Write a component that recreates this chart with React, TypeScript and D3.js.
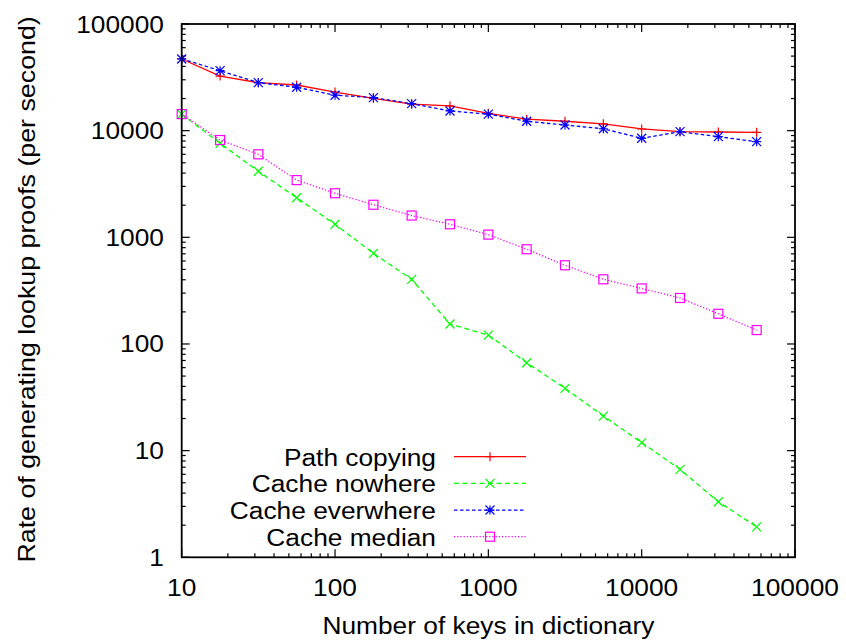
import React from "react";
import * as d3 from "d3";

// number of keys (quarter-decade steps)
const keys = [10, 17.8, 31.6, 56.2, 100, 178, 316, 562, 1000, 1778, 3162, 5623, 10000, 17783, 31623, 56234];

const pathCopying = [47000, 32500, 28200, 26800, 23000, 20100, 17700, 17100, 14550, 12800, 12250, 11600, 10370, 9780, 9710, 9640];
const cacheNowhere = [14300, 7620, 4160, 2350, 1325, 708, 404, 154, 121, 66.7, 38.4, 21.1, 11.9, 6.68, 3.32, 1.93];
const cacheEverywhere = [47000, 36500, 28200, 25500, 21500, 20400, 17900, 15300, 14300, 12250, 11300, 10420, 8480, 9780, 8780, 7880];
const cacheMedian = [14300, 8170, 6000, 3440, 2590, 2020, 1600, 1325, 1060, 773, 547, 404, 332, 270, 192, 135];

const xTickLabels = ["10", "100", "1000", "10000", "100000"];
const yTickLabels = ["1", "10", "100", "1000", "10000", "100000"];

const series = [
  { name: "Path copying", values: pathCopying, color: "#ff0000", dash: "none", marker: "plus" },
  { name: "Cache nowhere", values: cacheNowhere, color: "#00ff00", dash: "5,3.5", marker: "cross" },
  { name: "Cache everwhere", values: cacheEverywhere, color: "#0000ff", dash: "3.5,2.5", marker: "star" },
  { name: "Cache median", values: cacheMedian, color: "#ff00ff", dash: "1.2,2", marker: "square" },
];

const W = 846;
const H = 641;
const left = 181.7;
const right = 795;
const top = 24;
const bottom = 557.3;
const FONT = "'Liberation Sans', Arial, Helvetica, sans-serif";
const FS = 23.5;
const SX = 1.12; // glyphs in the original are a bit wider than Arial

function Marker({ type, x, y, color }: { type: string; x: number; y: number; color: string }) {
  const r = 4.5;
  const sw = 1.2;
  if (type === "square") {
    return <rect x={x - r} y={y - r} width={2 * r} height={2 * r} fill="none" stroke={color} strokeWidth={sw} />;
  }
  const plus = `M${x - r},${y}L${x + r},${y}M${x},${y - r}L${x},${y + r}`;
  const cross = `M${x - r},${y - r}L${x + r},${y + r}M${x - r},${y + r}L${x + r},${y - r}`;
  const d = type === "plus" ? plus : type === "cross" ? cross : plus + cross;
  return <path d={d} fill="none" stroke={color} strokeWidth={sw} />;
}

function Label({ x, y, anchor, children, rotate = 0, sx = SX }: any) {
  return (
    <text
      transform={`translate(${x},${y}) rotate(${rotate}) scale(${sx},1)`}
      textAnchor={anchor}
      fontFamily={FONT}
      fontSize={FS}
      fill="#000"
    >
      {children}
    </text>
  );
}

export default function App() {
  const x = d3.scaleLog().domain([10, 100000]).range([left, right]);
  const y = d3.scaleLog().domain([1, 100000]).range([bottom, top]);

  const xMajor = xTickLabels.map(Number);
  const yMajor = yTickLabels.map(Number);
  const xMinor = x.ticks().filter((t) => !xMajor.includes(t));
  const yMinor = y.ticks().filter((t) => !yMajor.includes(t));

  const majorLen = 8;
  const minorLen = 4;

  const line = d3
    .line<number>()
    .x((_, i) => x(keys[i]))
    .y((d) => y(d));

  const legendRight = 436;
  const legendY0 = 456.7;
  const legendStep = 26.67;
  const sampleX1 = 454;
  const sampleX2 = 526;

  return (
    <svg width={W} height={H} style={{ position: "absolute", left: 0, top: 0, background: "#fff" }}>
      <rect width={W} height={H} fill="#fff" />

      {/* ticks, mirrored on all four sides */}
      <g stroke="#000" strokeWidth={1.2}>
        {xMajor.map((t) => (
          <g key={"xM" + t}>
            <line x1={x(t)} x2={x(t)} y1={bottom} y2={bottom - majorLen} />
            <line x1={x(t)} x2={x(t)} y1={top} y2={top + majorLen} />
          </g>
        ))}
        {xMinor.map((t) => (
          <g key={"xm" + t}>
            <line x1={x(t)} x2={x(t)} y1={bottom} y2={bottom - minorLen} />
            <line x1={x(t)} x2={x(t)} y1={top} y2={top + minorLen} />
          </g>
        ))}
        {yMajor.map((t) => (
          <g key={"yM" + t}>
            <line x1={left} x2={left + majorLen} y1={y(t)} y2={y(t)} />
            <line x1={right} x2={right - majorLen} y1={y(t)} y2={y(t)} />
          </g>
        ))}
        {yMinor.map((t) => (
          <g key={"ym" + t}>
            <line x1={left} x2={left + minorLen} y1={y(t)} y2={y(t)} />
            <line x1={right} x2={right - minorLen} y1={y(t)} y2={y(t)} />
          </g>
        ))}
      </g>

      {/* tick labels */}
      {xTickLabels.map((l) => (
        <Label key={"xl" + l} x={x(+l)} y={596} anchor="middle">
          {l}
        </Label>
      ))}
      {yTickLabels.map((l) => (
        <Label key={"yl" + l} x={164} y={y(+l) + 8.5} anchor="end">
          {l}
        </Label>
      ))}

      {/* axis titles */}
      <Label x={(left + right) / 2} y={634} anchor="middle">
        Number of keys in dictionary
      </Label>
      <Label x={35} y={289.4} anchor="middle" rotate={-90} sx={1.14}>
        Rate of generating lookup proofs (per second)
      </Label>

      {/* series */}
      {series.map((s) => (
        <g key={s.name}>
          <path d={line(s.values) || ""} fill="none" stroke={s.color} strokeWidth={1.3} strokeDasharray={s.dash} />
          {s.values.map((v, i) => (
            <Marker key={i} type={s.marker} x={x(keys[i])} y={y(v)} color={s.color} />
          ))}
        </g>
      ))}

      {/* legend */}
      {series.map((s, i) => {
        const ly = legendY0 + i * legendStep;
        return (
          <g key={"lg" + s.name}>
            <Label x={legendRight} y={ly + 9} anchor="end">
              {s.name}
            </Label>
            <line x1={sampleX1} x2={sampleX2} y1={ly} y2={ly} stroke={s.color} strokeWidth={1.3} strokeDasharray={s.dash} />
            <Marker type={s.marker} x={(sampleX1 + sampleX2) / 2} y={ly} color={s.color} />
          </g>
        );
      })}

      {/* frame */}
      <rect x={left} y={top} width={right - left} height={bottom - top} fill="none" stroke="#000" strokeWidth={1.8} />
    </svg>
  );
}
